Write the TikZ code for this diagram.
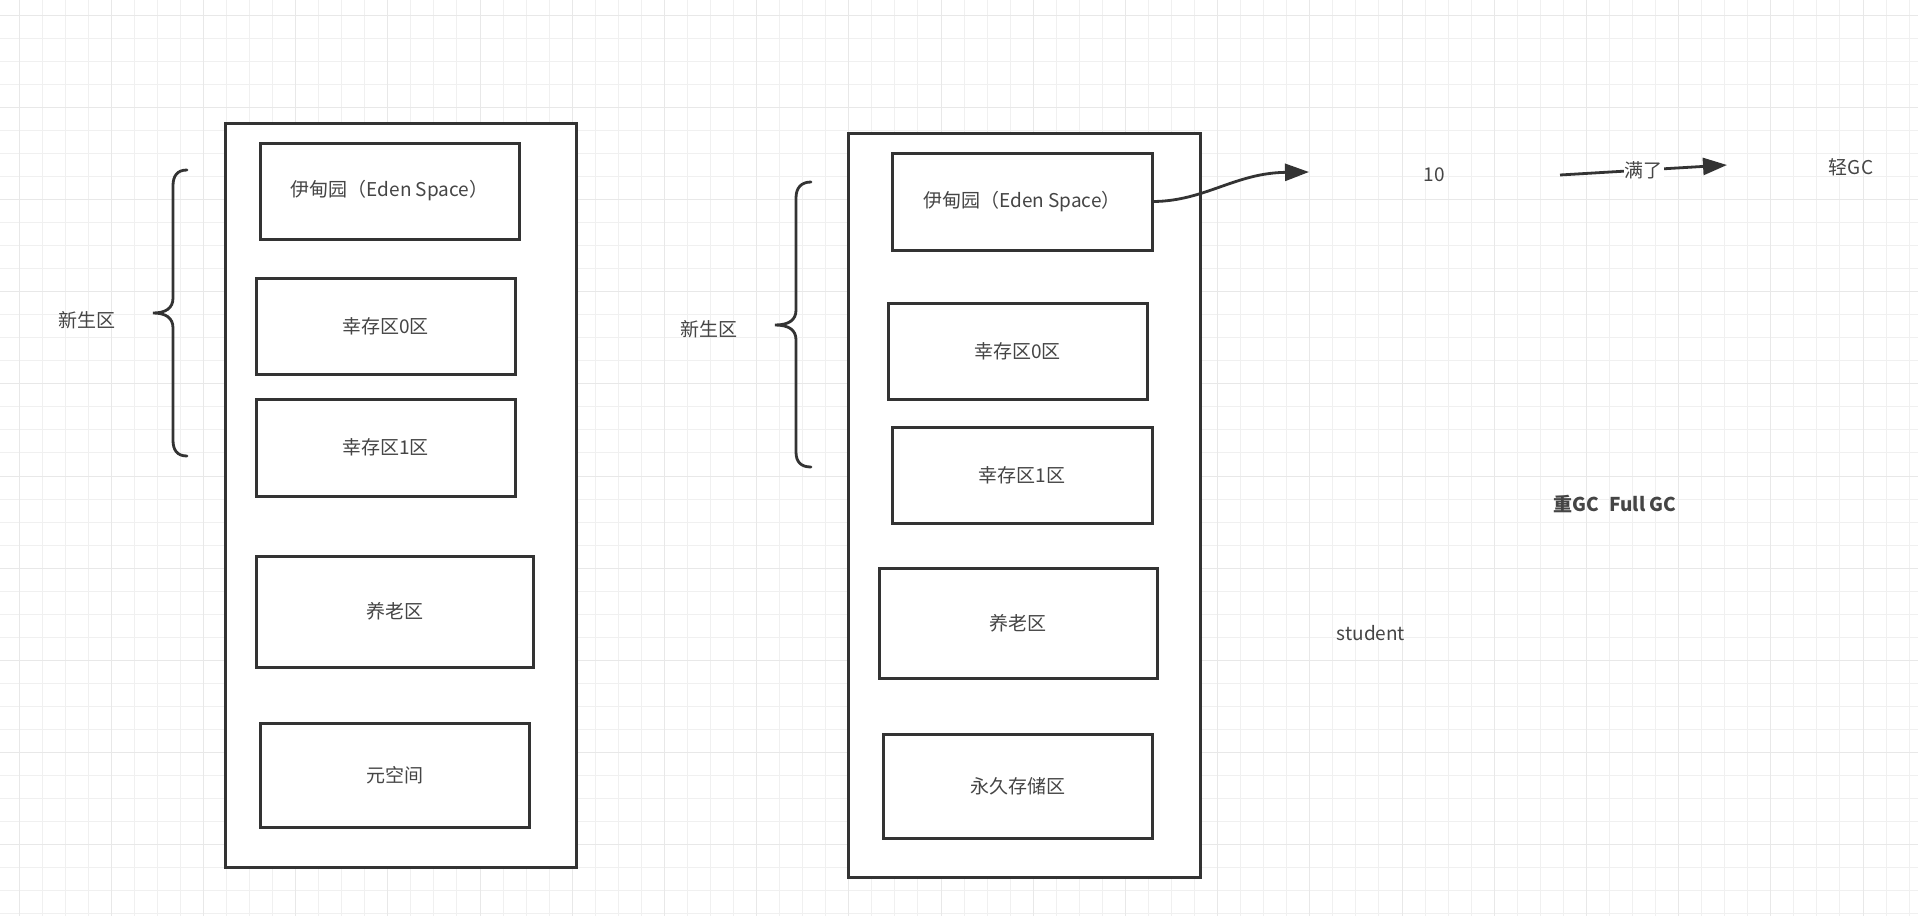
\documentclass[tikz,border=0pt]{standalone}
\usepackage{fontspec}
\setmainfont{Noto Sans CJK SC}
\usetikzlibrary{arrows.meta}
\definecolor{ink}{HTML}{333333}
\definecolor{txt}{HTML}{454545}
\definecolor{gridminor}{HTML}{F0F0F0}
\definecolor{gridmajor}{HTML}{E8E8E8}
\tikzset{
  region/.style={draw=ink, line width=3pt, fill=white, inner sep=0pt, text=txt,
                 font=\fontsize{19}{23}\selectfont},
  heap/.style={draw=ink, line width=3pt, fill=white, inner sep=0pt},
  lbl/.style={text=txt, inner sep=1pt, font=\fontsize{19}{23}\selectfont},
  brace/.style={draw=ink, line width=2.8pt, line cap=round},
  flow/.style={draw=ink, line width=2.8pt, -{Triangle[length=24pt,width=17pt]}},
}
\begin{document}
\begin{tikzpicture}[x=1pt,y=-1pt]
\useasboundingbox (0,0) rectangle (1918,916);
\fill[white] (0,0) rectangle (1918,916);
% grid
\foreach \i in {0,...,82} {\draw[gridminor, line width=1pt] ({19+23.05*\i},0) -- ({19+23.05*\i},916);}
\foreach \i in {0,...,39} {\draw[gridminor, line width=1pt] (0,{15+23.05*\i}) -- (1918,{15+23.05*\i});}
\foreach \i in {0,...,20} {\draw[gridmajor, line width=1pt] ({19+92.2*\i},0) -- ({19+92.2*\i},916);}
\foreach \i in {0,...,9} {\draw[gridmajor, line width=1pt] (0,{15+92.2*\i}) -- (1918,{15+92.2*\i});}

% left heap
\node[heap, minimum width=351pt, minimum height=744pt] (outerA) at (400.5,495) {};
\node[region, minimum width=259pt, minimum height=96pt] (edenA) at (389.5,191) {伊甸园（Eden Space）};
\node[region, minimum width=259pt, minimum height=96pt] (s0A) at (385.5,326) {幸存区0区};
\node[region, minimum width=259pt, minimum height=97pt] (s1A) at (385.5,447.5) {幸存区1区};
\node[region, minimum width=277pt, minimum height=111pt] (oldA) at (394.5,611.5) {养老区};
\node[region, minimum width=269pt, minimum height=104pt] (metaA) at (394.5,775) {元空间};

% right heap
\node[heap, minimum width=352pt, minimum height=744pt] (outerB) at (1024,505) {};
\node[region, minimum width=260pt, minimum height=97pt] (edenB) at (1022,201.5) {伊甸园（Eden Space）};
\node[region, minimum width=259pt, minimum height=96pt] (s0B) at (1017.5,351) {幸存区0区};
\node[region, minimum width=260pt, minimum height=96pt] (s1B) at (1022,475) {幸存区1区};
\node[region, minimum width=278pt, minimum height=110pt] (oldB) at (1018,623) {养老区};
\node[region, minimum width=269pt, minimum height=104pt] (permB) at (1017.5,786) {永久存储区};

% braces
\draw[brace] (187,170) .. controls (177,170) and (173,176) .. (173,186) -- (173,298)
  .. controls (173,308) and (166,313) .. (153,313)
  .. controls (166,313) and (173,318) .. (173,328) -- (173,440)
  .. controls (173,450) and (177,456) .. (187,456);
\draw[brace] (811,182) .. controls (801,182) and (796,188) .. (796,198) -- (796,310)
  .. controls (796,320) and (789,325) .. (775,325)
  .. controls (789,325) and (796,330) .. (796,340) -- (796,452)
  .. controls (796,462) and (801,467) .. (811,467);

\node[lbl] (youngA) at (87,320) {新生区};
\node[lbl] (youngB) at (709,329) {新生区};

% right side notes
\node[lbl] (ten) at (1434,175) {10};
\node[lbl] (minor) at (1851,167) {轻GC};
\node[lbl, font=\fontsize{19}{23}\selectfont\bfseries] (major) at (1615,504) {重GC\hspace{10pt}Full GC};
\node[lbl] (student) at (1371,633) {student};

\coordinate (edenTip) at (1309,172);
\coordinate (fullStart) at (1560,175);
\coordinate (fullTip) at (1727,165);

\draw[flow] (edenB.east) .. controls (1205,201) and (1235,173) .. (edenTip);
\draw[flow] (fullStart) -- node[lbl, fill=white, inner sep=1pt] (full) {满了} (fullTip);
\end{tikzpicture}
\end{document}
